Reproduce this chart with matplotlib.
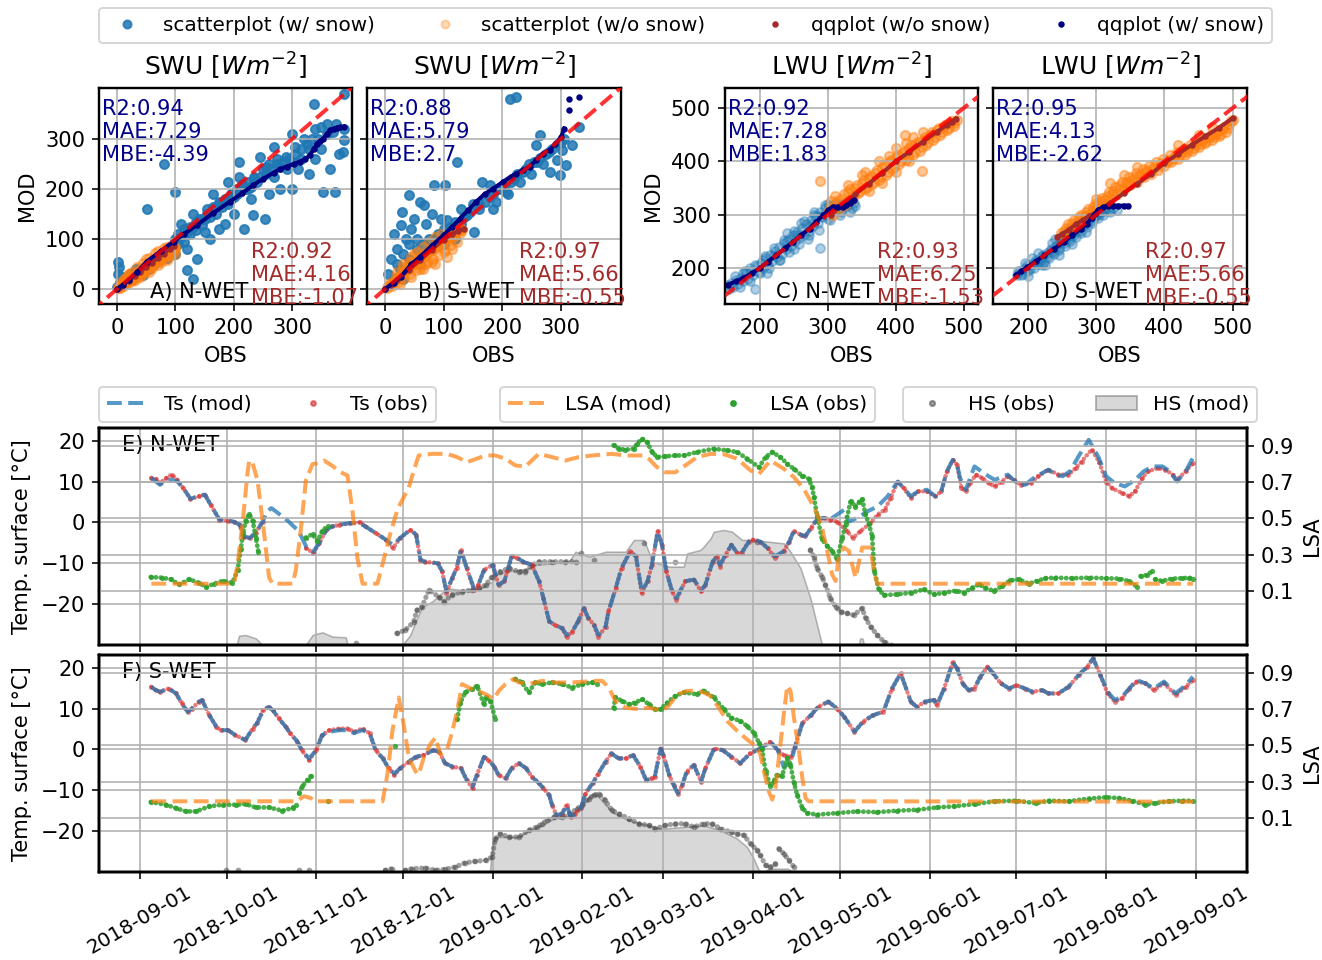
import numpy as np
import pandas as pd
import matplotlib
matplotlib.use('Agg')
import matplotlib.pyplot as plt
import matplotlib.dates as mdates
from matplotlib.lines import Line2D
from matplotlib.patches import Patch

nan = np.nan

# ---- scatter / qq data, (obs, mod) in W m-2 ----
A_SNOW = [(0,5),(1,30),(2,55),(3,45),(5,15),(8,25),(12,10),(18,20),(22,30),(28,22),(33,40),(38,35),(44,28),
          (50,45),(55,40),(60,55),(64,50),(70,65),(74,60),(80,70),(85,62),(90,85),(95,75),(100,100),(105,90),
          (110,105),(115,95),(120,115),(125,110),(130,125),(135,118),(140,140),(145,128),(150,140),(155,150),
          (160,145),(165,160),(170,150),(175,175),(180,165),(185,180),(190,170),(195,190),(200,185),(205,200),
          (210,195),(215,210),(220,200),(225,215),(230,205),(235,225),(240,215),(250,240),(255,230),(260,250),
          (270,225),(275,260),(280,245),(290,265),(300,255),(305,285),(315,260),(320,300),(330,280),(340,320),
          (345,300),(350,325),(360,310),(365,240),(370,315),(380,270),(390,320),(51,161),(80,251),(99,195),
          (131,21),(120,38),(137,61),(217,121),(254,141),(234,148),(209,255),(291,241),(354,195),(374,195),
          (387,275),(389,298),(337,371),(389,391),(160,100),(185,130),(200,150),(230,180),(260,190),(280,200),
          (300,200),(330,230),(190,215),(175,120),(150,115),(120,80),(100,70),(110,130),(130,150),(165,190),
          (210,225),(245,265),(270,285),(300,310),(310,240),(340,260),(350,280),(360,330),(375,330),
          (105,110),(125,125),(145,140),(165,165),(185,175),(205,190),(225,200),(245,225),(265,240),(285,255),
          (305,270),(325,290),(335,300),(115,120),(135,135),(155,160),(175,170),(195,180),(215,205),(235,220),
          (255,245),(275,250),(295,260),(315,280)]
A_NOSNOW = [(1,2),(3,6),(5,3),(8,10),(10,6),(13,15),(16,10),(19,20),(22,14),(25,26),(28,19),(31,31),(34,24),
            (37,37),(40,29),(43,42),(46,34),(49,47),(52,39),(55,52),(58,45),(61,56),(64,50),(67,61),(70,55),
            (73,66),(76,59),(79,70),(82,64),(85,74),(88,69),(91,77),(94,73),(97,82),(100,78),(20,30),(35,45),
            (50,60),(65,72),(80,82),(30,18),(45,30),(60,42),(75,55),(90,66),
            (4,4),(6,7),(9,8),(11,13),(14,12),(17,16),(20,17),(23,21),(26,23),(29,27),(32,29),(35,32),(38,33),
            (41,37),(44,39),(47,42),(50,44),(53,48),(56,49),(59,53),(62,54),(65,58),(68,60),(71,63),(74,64),
            (77,67),(80,69),(83,72),(86,72),(89,76),(92,79),(96,80),(99,84),(15,22),(25,34),(45,52),(55,62),
            (70,76),(85,84),(95,88),(40,25),(55,35),(70,48),(85,58),(100,70),(7,14),(12,20),(18,28)]
A_QQ_NOSNOW = [(0,0),(5,4),(10,8),(20,17),(30,26),(40,35),(50,44),(60,53),(70,62),(80,71),(90,80),(98,86)]
A_QQ_SNOW = [(0,0),(10,8),(20,18),(35,35),(51,55),(75,76),(97,95),(115,110),(137,128),(165,152),(194,175),
             (215,192),(234,208),(250,220),(269,233),(280,240),(291,245),(303,250),(314,255),(323,260),
             (331,268),(337,280),(343,291),(348,296),(354,301),(360,310),(366,318),(372,321),(377,323),
             (383,324),(389,325)]

B_SNOW = [(213,381),(224,385),(332,325),(264,308),(123,255),(83,208),(103,208),(41,188),(66,168),(29,155),
          (27,128),(15,111),(106,138),(258,288),(241,241),(281,235),(298,228),(309,248),(303,278),(294,258),
          (320,288),(165,215),(179,208),(207,195),(185,161),(140,148),(151,115),(60,175),(50,140),(35,100),
          (20,80),(45,120),(70,130),(80,150),(10,60),(5,30),(15,20),(25,40),(40,60),(55,80),(65,90),(75,100),
          (90,110),(100,120),(110,115),(120,135),(130,130),(145,155),(160,160),(170,175),(185,190),(195,200),
          (205,210),(215,215),(225,230),(235,235),(245,250),(255,255),(265,262),(275,270),(285,280),(295,290),
          (305,300),(230,215),(250,230),(270,250),(190,175),(210,190),(150,170),(130,160),(95,140),(85,100),
          (120,100),(100,90),(60,50),(30,20),(110,125),(135,145),(160,170),(180,185),(200,205),(220,220),
          (240,240),(260,255),(280,275),(300,295),(20,50),(30,70),(40,90),(55,100)]
B_NOSNOW = [(3,3),(8,12),(12,6),(18,25),(22,14),(28,35),(32,22),(38,45),(42,30),(48,55),(52,38),(58,65),
            (62,46),(68,72),(72,54),(78,80),(82,60),(88,88),(92,68),(98,95),(102,78),(108,100),(112,88),
            (118,106),(122,95),(128,112),(132,118),(40,55),(30,45),(50,70),(60,40),(80,55),(100,75),(70,50),
            (5,6),(10,10),(15,16),(20,20),(25,27),(30,30),(35,36),(40,40),(45,46),(50,50),(55,55),(60,60),
            (65,65),(70,68),(75,74),(80,78),(85,83),(90,86),(95,90),(100,96),(105,100),(110,104),(115,108),
            (120,112),(125,116),(130,120),(20,35),(30,50),(45,65),(55,75),(65,85),(75,95),(85,105),(95,110),
            (25,10),(45,25),(65,40),(85,50),(105,65),(115,80)]
B_QQ_NOSNOW = [(0,0),(10,9),(20,18),(40,38),(60,58),(80,79),(100,99),(115,110),(125,116),(134,121)]
B_QQ_SNOW = [(0,0),(15,13),(27,25),(45,50),(60,65),(80,87),(100,108),(115,125),(128,141),(142,158),(156,175),
             (170,190),(185,201),(202,215),(215,225),(224,231),(236,238),(247,245),(258,258),(269,271),
             (281,278),(291,290),(301,305),(306,321),(nan,nan),(315,358),(nan,nan),(315,380),(nan,nan),(332,385)]

C_SNOW = [(153,168),(158,172),(160,165),(165,178),(168,170),(172,182),(175,175),(180,190),(183,180),(187,195),
          (190,186),(195,203),(198,193),(202,210),(205,200),(208,218),(212,207),(215,225),(218,213),(222,232),
          (225,220),(228,240),(232,227),(235,247),(238,235),(242,255),(245,242),(248,262),(252,250),(255,268),
          (258,256),(262,275),(265,262),(268,282),(272,270),(275,290),(278,278),(282,298),(285,285),(288,305),
          (292,295),(295,312),(298,300),(302,316),(305,305),(310,318),(315,310),(320,320),(325,315),(330,318),
          (335,312),(340,316),(288,237),(192,160),(210,190),(230,215),(250,235),(270,255),(300,292),(320,305),
          (240,265),(260,285),(280,305),(300,320),
          (155,160),(163,185),(170,165),(178,195),(185,175),(192,205),(200,190),(207,222),(214,200),(220,238),
          (228,215),(235,252),(243,230),(250,270),(258,245),(265,288),(272,262),(280,300),(287,272),(295,318),
          (303,290),(312,322),(318,300),(327,322),(333,305),(338,322),(175,190),(205,215),(240,250),(275,282),
          (310,312),(185,200),(220,225),(255,262),(290,298)]
C_NOSNOW = [(300,305),(305,325),(310,315),(320,330),(325,318),(330,342),(335,330),(340,350),(345,340),
            (350,360),(355,348),(360,368),(365,357),(370,378),(375,365),(380,388),(385,375),(390,398),
            (395,385),(400,408),(405,395),(410,415),(415,402),(420,425),(425,412),(430,432),(435,420),
            (440,440),(445,430),(450,450),(455,440),(460,458),(465,450),(470,465),(475,458),(480,472),
            (485,466),(490,478),(289,363),(438,381),(486,471),(413,449),(360,345),(380,360),(400,380),
            (420,400),(350,375),(375,400),(400,425),(425,445),
            (303,312),(308,300),(313,325),(318,312),(323,338),(328,325),(333,348),(338,336),(343,356),
            (348,345),(353,365),(358,352),(363,373),(368,362),(373,383),(378,370),(383,393),(388,380),
            (393,402),(398,390),(403,412),(408,400),(413,420),(418,408),(423,430),(428,418),(433,436),
            (438,426),(443,446),(448,436),(453,455),(458,446),(463,462),(468,455),(473,468),(478,462),
            (483,476),(310,335),(330,355),(355,380),(390,410),(415,435),(440,455)]
C_QQ_NOSNOW = [(305,300),(320,318),(340,338),(360,358),(380,378),(400,400),(420,418),(440,437),(460,455),
               (475,468),(482,474),(488,480)]
C_QQ_SNOW = [(153,169),(165,175),(175,181),(188,190),(200,200),(212,212),(224,224),(237,237),(249,249),
             (261,262),(273,274),(283,287),(293,299),(300,308),(307,315),(315,315),(322,315),(327,318),
             (332,321),(336,325),(339,327)]

D_SNOW = [(183,186),(188,195),(192,188),(196,200),(200,195),(205,208),(208,200),(212,215),(215,207),(220,222),
          (223,212),(227,228),(230,218),(234,236),(238,226),(242,244),(246,234),(250,252),(254,242),(258,260),
          (262,250),(266,268),(270,258),(274,276),(278,266),(282,284),(286,276),(290,292),(294,284),(298,300),
          (302,294),(306,306),(310,300),(315,312),(320,305),(325,312),(330,308),(215,228),(235,247),(255,266),
          (275,285),(225,205),(245,225),(265,245),(285,268),(205,218),(195,210),
          (185,195),(190,186),(198,206),(203,198),(210,212),(218,214),(222,225),(228,220),(232,232),(237,230),
          (240,240),(245,238),(248,248),(252,246),(256,256),(260,254),(264,264),(268,262),(272,272),(276,270),
          (280,280),(284,280),(288,288),(292,288),(296,296),(300,298),(304,302),(308,305),(312,308),(318,310),
          (240,255),(260,272),(280,292),(200,185),(220,205)]
D_NOSNOW = [(248,265),(255,275),(260,268),(265,285),(270,280),(275,295),(280,290),(285,305),(290,300),
            (295,315),(300,310),(305,325),(310,318),(315,335),(320,328),(325,345),(330,338),(335,355),
            (340,348),(345,362),(350,356),(355,370),(360,362),(365,376),(370,370),(375,383),(380,377),
            (385,390),(390,384),(395,396),(400,392),(405,402),(410,398),(415,410),(420,405),(425,417),
            (430,412),(435,424),(440,420),(445,431),(450,427),(455,438),(460,434),(465,445),(470,440),
            (475,452),(480,447),(485,460),(490,455),(495,470),(500,478),(320,360),(340,375),(360,390),
            (300,330),(420,430),(450,450),(470,465),
            (252,270),(258,282),(262,275),(268,290),(272,286),(278,300),(283,297),(288,310),(293,306),
            (298,320),(303,318),(308,332),(313,328),(318,342),(323,338),(328,352),(333,348),(338,362),
            (343,358),(348,370),(353,365),(358,378),(363,372),(368,385),(373,380),(378,392),(383,386),
            (388,398),(393,392),(398,405),(403,398),(408,412),(413,405),(418,418),(423,412),(428,424),
            (433,418),(438,430),(443,425),(448,436),(453,432),(458,443),(463,438),(468,450),(473,446),
            (478,457),(483,452),(488,465),(493,462),(498,476)]
D_QQ_NOSNOW = [(243,259),(250,264),(260,272),(270,282),(280,290),(290,298),(300,304),(320,322),(340,340),
               (360,358),(380,376),(400,397),(420,414),(440,431),(460,447),(480,463),(500,481)]
D_QQ_SNOW = [(182,187),(190,194),(199,202),(212,213),(224,224),(238,236),(253,249),(265,262),(278,274),
             (286,283),(293,293),(298,302),(302,309),(310,314),(317,317),(325,317),(332,317),(340,317),(347,317)]

PANELS = ['A) N-WET', 'B) S-WET', 'C) N-WET', 'D) S-WET']
TITLES = ['SWU [$Wm^{-2}$]', 'SWU [$Wm^{-2}$]', 'LWU [$Wm^{-2}$]', 'LWU [$Wm^{-2}$]']
STATS_SNOW = ['R2:0.94\nMAE:7.29\nMBE:-4.39', 'R2:0.88\nMAE:5.79\nMBE:2.7',
              'R2:0.92\nMAE:7.28\nMBE:1.83', 'R2:0.95\nMAE:4.13\nMBE:-2.62']
STATS_NOSNOW = ['R2:0.92\nMAE:4.16\nMBE:-1.07', 'R2:0.97\nMAE:5.66\nMBE:-0.55',
                'R2:0.93\nMAE:6.25\nMBE:-1.53', 'R2:0.97\nMAE:5.66\nMBE:-0.55']

# ---- time series, (days since 2018-09-01, value) ----
E_TS_MOD = [(4,10.9),(5.5,10.0),(7,9.2),(9,10.4),(11,10.4),(13,10.0),(15,8.4),(17.5,5.8),(20.5,6.4),(22.5,6.8),
            (24.5,4.3),(27.5,0.7),(30.5,0.4),(32.5,0.2),(34.5,-0.6),(36,-3.4),(38,-3.8),(40,-2.6),(42.5,0.2),
            (44,2.7),(45.5,3.5),(47,2.7),(51,0.5),(55,-2.2),(57.5,-5.9),(60,-7.1),(62,-5.1),(64.5,-1.8),
            (66.5,-1.0),(69,-0.6),(72.5,-0.2),(76,-0.2),(78,-1.0),(81.5,-2.6),(85,-4.2),(87.5,-5.5),(90,-3.8),
            (93.5,-1.8),(95.5,-3.0),(97,-9.1),(98.5,-9.6),(103,-10.0),(104.5,-12.0),(106,-16.9),(108,-13.6),
            (109.5,-11.2),(111,-6.7),(113,-11.2),(115.5,-16.1),(117,-15.3),(119,-11.6),(122,-10.4),(124,-15.3),
            (126,-14.4),(127,-12.0),(128.5,-8.3),(130.5,-8.7),(132.5,-9.6),(135.5,-10.4),(138,-14.4),
            (139.5,-18.5),(141.5,-24.2),(143.5,-25.1),(146,-25.9),(147.5,-27.5),(149.5,-26.7),(151.5,-24.2),
            (153.5,-21.0),(155,-23.4),(157,-25.1),(158.5,-27.5),(161,-25.5),(162,-21.8),(164.5,-16.1),
            (166.5,-11.2),(169.5,-7.1),(171.5,-8.3),(173.5,-16.9),(175.5,-14.4),(177,-10.4),(179,-2.2),
            (180.5,-5.5),(182,-12.0),(184,-16.9),(185.5,-18.5),(188.5,-14.4),(191.5,-14.0),(194,-16.5),
            (195.5,-15.3),(198,-9.6),(199.5,-8.3),(200.5,-10.4),(202.5,-7.9),(204.5,-5.5),(206.5,-7.5),
            (208,-7.5),(210.5,-4.7),(212,-4.2),(214.5,-4.7),(217,-6.3),(219.5,-8.3),(222.5,-7.1),(224.5,-4.7),
            (226,-2.2),(228.5,-3.0),(230,-3.4),(232,-1.4),(234,0.7),(236.5,1.1),(238.5,0.7),(241,1.9),
            (243.5,3.1),(245,0.2),(248,1.1),(251.5,2.7),(255,3.9),(258.5,6.4),(262,10.0),(264,8.4),(266.5,6.4),
            (269,7.6),(272,8.0),(275,6.4),(277,7.6),(279,12.5),(281,15.3),(282.5,14.1),(283.5,10.9),
            (285.5,8.0),(288.5,13.7),(292.5,11.7),(295.5,10.4),(300,11.7),(302,10.4),(304,9.2),(306,9.2),
            (309,10.9),(312,12.1),(314,12.9),(316.5,11.7),(319,11.3),(321.5,12.5),(324.5,16.2),(328,20.2),
            (331.5,15.8),(334,11.3),(337,9.6),(340.5,8.8),(344,10.4),(347,12.5),(350,13.7),(353.5,13.7),
            (356,12.5),(358.5,10.0),(361.5,12.5),(364,15.8)]
E_TS_OBS = [(4,10.9),(5.5,10.6),(7,9.6),(9,10.8),(11,11.7),(13,10.4),(15,8.4),(17.5,5.8),(20.5,6.4),(22.5,6.8),
            (24.5,4.3),(27.5,0.7),(30.5,0.4),(32.5,0.2),(34.5,-0.6),(36,-3.6),(38,-3.8),(40,-2.6),(42.5,0.2),
            (43,nan),(57.5,-6.3),(60,-7.5),(62,-5.1),(64.5,-1.8),(66.5,-1.0),(69,-0.6),(72.5,-0.2),(76,0.0),
            (78,-1.0),(81.5,-2.6),(85,-4.2),(87.5,-6.3),(90,-3.8),(93.5,-1.8),(95.5,-3.0),(97,-9.1),(98.5,-9.6),
            (103,-10.0),(104.5,-12.0),(106,-17.3),(108,-13.6),(109.5,-11.2),(111,-6.7),(113,-11.2),
            (115.5,-16.5),(117,-15.3),(119,-11.6),(122,-10.4),(124,-15.3),(126,-14.4),(127,-12.0),(128.5,-8.3),
            (130.5,-8.7),(132.5,-9.6),(135.5,-10.4),(138,-14.4),(139.5,-18.5),(141.5,-24.2),(143.5,-25.1),
            (146,-25.9),(147.5,-28.0),(149.5,-26.7),(151.5,-24.2),(153.5,-21.0),(155,-23.4),(157,-25.1),
            (158.5,-28.0),(161,-25.5),(162,-21.8),(164.5,-16.1),(166.5,-11.2),(169.5,-7.1),(171.5,-8.3),
            (173.5,-17.3),(175.5,-14.4),(177,-10.4),(179,-2.2),(180.5,-5.5),(182,-12.0),(184,-16.9),
            (185.5,-19.0),(188.5,-14.4),(191.5,-14.0),(194,-16.9),(195.5,-15.3),(198,-9.6),(199.5,-8.3),
            (200.5,-10.8),(202.5,-7.9),(204.5,-5.5),(206.5,-7.5),(208,-7.5),(210.5,-4.7),(212,-4.2),
            (214.5,-4.7),(217,-6.3),(219.5,-8.7),(222.5,-7.1),(224.5,-4.7),(226,-2.2),(228.5,-3.0),(230,-3.4),
            (232,-1.4),(234,0.7),(236.5,1.1),(238.5,0.7),(241,0.2),(244.5,-2.2),(246.5,-3.8),(249,-2.2),
            (252.5,-0.2),(255,1.9),(257.5,3.1),(259.5,6.0),(262,10.0),(264,8.4),(266.5,6.0),(269,7.6),
            (272,7.6),(275,6.4),(277,7.6),(279,12.5),(281,15.3),(282.5,14.1),(284,8.4),(285.5,7.6),(287,9.6),
            (289,11.7),(291,10.9),(293.5,9.6),(295.5,8.8),(298,10.0),(300,11.3),(302,10.4),(304.5,9.2),
            (308,9.6),(310.5,11.3),(314,12.9),(317.5,11.7),(321,11.7),(323.5,13.3),(325.5,14.9),(329,17.8),
            (331.5,14.9),(334,10.0),(336,8.4),(339.5,7.2),(342,6.4),(344,7.6),(346.5,10.9),(348.5,12.5),
            (352,13.3),(354.5,12.9),(357,11.7),(358.5,10.4),(361.5,12.5),(364,14.5)]
E_LSA_MOD = [(4,0.139),(32.6,0.139),(33.8,0.246),(35.5,0.469),(37.2,0.746),(37.8,0.82),(38.9,0.811),
             (40.7,0.709),(43,0.413),(44.7,0.172),(45.9,0.139),(52.8,0.139),(53.9,0.21),(55.6,0.43),
             (57.4,0.709),(59.7,0.80),(61.4,0.806),(63.7,0.82),(66.6,0.79),(69.5,0.755),(71.8,0.737),
             (73.5,0.543),(75.2,0.283),(77,0.139),(82.1,0.139),(83.9,0.246),(86.2,0.394),(89.1,0.552),
             (93,0.672),(94.7,0.765),(96.4,0.848),(101,0.857),(106.2,0.857),(109.7,0.839),(113.1,0.811),
             (119.5,0.848),(122.9,0.848),(126.4,0.83),(129.8,0.793),(133.3,0.787),(137.9,0.857),(142.5,0.839),
             (147.1,0.82),(151.7,0.839),(156.3,0.848),(163.2,0.857),(167.8,0.848),(174.2,0.848),(175.9,0.83),
             (178.8,0.783),(181.7,0.755),(185.1,0.755),(189.2,0.80),(192.6,0.839),(197.3,0.857),(202.1,0.854),
             (206.5,0.83),(211.1,0.765),(214,0.746),(218,0.82),(222.6,0.774),(226.1,0.728),(229.5,0.663),
             (231.8,0.598),(234.1,0.524),(235.8,0.45),(237.6,0.32),(239.3,0.19),(240.5,0.154),(241.6,0.283),
             (243.3,0.339),(245.1,0.32),(246.2,0.246),(247.4,0.172),(249.7,0.339),(252.6,0.339),(253.7,0.209),
             (254.9,0.139),(364,0.139)]
E_LSA_OBS = [(3.8,0.176),(7.8,0.172),(10.7,0.163),(13.6,0.135),(17.1,0.163),(20.5,0.144),(22.8,0.12),
             (25.7,0.139),(28.6,0.154),(32,0.144),(33.8,0.213),(34.9,0.33),(35.7,0.422),(36.6,0.487),
             (37.8,0.524),(39,0.487),(40.1,0.394),(41,0.315),(41.5,nan),(57.4,0.394),(59.7,0.413),(61.4,0.376),
             (63.1,0.431),(64.9,0.459),(65.5,nan),(163.8,0.904),(165.5,0.885),(167.8,0.88),(170.7,0.885),
             (171.9,0.913),(173.6,0.941),(175.3,0.922),(177.1,0.867),(178.8,0.839),(181.7,0.843),(185.1,0.848),
             (188,0.848),(192.6,0.867),(198.4,0.885),(203,0.876),(206.5,0.867),(209.9,0.83),(214,0.783),
             (216.3,0.839),(218.6,0.867),(221.4,0.839),(223.8,0.802),(226.1,0.774),(228.9,0.737),(231.2,0.719),
             (232.4,0.672),(233,0.617),(234.1,0.515),(235.8,0.385),(237.6,0.348),(239.3,0.32),(241,0.274),
             (242.8,0.394),(244,0.469),(245.7,0.598),(247.1,0.565),(248.5,0.589),(249.7,0.607),(250.8,0.524),
             (252,0.469),(253.1,0.404),(253.9,0.209),(255.4,0.107),(257.2,0.076),(261.8,0.08),(266.4,0.089),
             (271,0.107),(274.5,0.08),(278,0.089),(282,0.10),(284.8,0.089),(287.7,0.117),(290,0.135),
             (292.3,0.117),(295.2,0.098),(298,0.126),(300.9,0.157),(303.8,0.163),(307.3,0.139),(310.1,0.154),
             (313,0.169),(316.5,0.172),(322.2,0.169),(328,0.172),(333.8,0.169),(338.4,0.167),(341.8,0.154),
             (344.7,0.122),(345.3,nan),(345.9,0.181),(348.2,0.187),(349.9,0.209),(350.4,nan),(351,0.163),
             (353.3,0.154),(356.8,0.167),(360.3,0.169),(362.6,0.172),(364,0.167)]
E_HS_MOD = [(4,0),(33.5,0),(34.3,8.6),(36.6,9.2),(40.1,6.1),(42.4,0),(57.4,0),(59.7,9.2),(63.1,11.7),
            (66.6,7.7),(71.2,7.1),(71.8,0),(89.5,0),(91.2,1.5),(93.5,9.2),(95.3,21.5),(97.6,35.3),(101,40),
            (106.2,52.2),(111.4,50.7),(117.2,51.6),(121.8,58.4),(122.9,64.5),(126.4,67.6),(134.4,70.7),
            (136.7,73.7),(142.5,75.3),(148.3,76.8),(150.6,86),(155.3,81.4),(161,86),(167.9,86),(170.8,96.8),
            (174.2,96.8),(175.9,86),(177.1,76.8),(182.8,72.2),(188,72.2),(189.2,84.5),(193.8,87.6),(194.9,90.6),
            (197.3,98.3),(198.4,104.4),(201.9,106),(204.7,104.4),(208.2,96.8),(211.7,96.8),(222.6,93.7),
            (224.9,86),(228.4,70.7),(231.8,43),(234.1,18.4),(235.8,0),(248.5,0),(249,6),(249.8,6),(250.3,0),
            (364,0)]
E_HS_OBS = [(74.7,1.5),(75,nan),(88.9,10.8),(91.8,13.8),(94.7,21.5),(95.8,32.3),(97.6,35.3),(99.9,50.7),
            (103.3,44.5),(105.1,39.9),(107.9,46.1),(111.4,49.2),(114.8,50.7),(117.2,52.2),(119.5,55.3),
            (121.8,63),(124.6,67.6),(127.5,70.7),(131,67.6),(133.3,67.6),(135.6,73.7),(137.9,76.8),(142.5,76.8),
            (147.1,76.8),(150.6,76.8),(151,nan),(152.5,85.1),(153,nan),(156.9,78.3),(157.5,nan),(174.2,93.7),
            (175,nan),(185.1,76.8),(186,nan),(213.5,95),(214,nan),(231.8,87.6),(233,81.4),(234.1,70.7),
            (235.8,63),(237,55.3),(238.7,43),(240.5,35.3),(242.2,30.7),(244.5,29.2),(246.8,27.6),(249.7,33.8),
            (250.9,24.6),(252.6,16.9),(254.9,9.2),(257.2,3.1),(259.5,0)]

F_TS_MOD = [(4,15.3),(5.5,14.5),(7,14.1),(10,14.9),(12.5,13.7),(14.5,11.3),(16.5,9.2),(18,10.0),(20.5,11.7),
            (21.5,12.1),(24,8.4),(26.5,5.5),(28,4.7),(30.5,4.7),(33,3.5),(36.5,2.3),(39,5.1),(40.5,6.4),
            (42.5,9.2),(44.5,10.4),(46,9.6),(48,7.6),(50.5,5.5),(52,3.9),(54.5,1.9),(56,-0.2),(58.5,-2.2),
            (61,-0.2),(63,3.5),(65.5,4.3),(69,4.7),(72,4.7),(74,4.0),(77,4.7),(79.5,3.9),(81.5,-0.2),(84,-2.2),
            (86,-4.6),(88,-5.9),(90,-4.6),(93,-3.0),(95.5,-1.8),(98,-1.4),(101.5,-0.2),(103.5,-0.6),
            (105.5,-3.4),(108,-4.2),(111,-4.6),(113,-7.5),(115,-9.1),(116.5,-6.3),(119,-1.8),(120.5,-2.6),
            (122.5,-4.2),(124,-6.3),(126.5,-7.1),(128.5,-4.6),(131,-3.4),(133.5,-4.6),(135.5,-6.7),(138,-8.3),
            (139.5,-9.5),(141.5,-11.2),(142.5,-13.6),(144,-16.1),(146,-15.7),(147.5,-13.6),(149,-16.5),
            (150.5,-15.7),(152.5,-14.4),(154,-10.8),(156.5,-8.3),(158.5,-5.9),(161,-3.0),(163,-1.0),
            (165.5,-2.2),(168,-2.2),(170.5,-1.4),(173,-4.2),(175,-7.5),(177,-7.1),(178,-6.7),(180,0.2),
            (181,-1.4),(183,-6.3),(184.5,-8.7),(186,-10.8),(187.5,-8.7),(189,-5.5),(191.5,-3.8),(194,-7.9),
            (195.5,-4.6),(198.5,0.2),(201.5,-0.2),(204.5,-1.8),(207.5,-3.4),(211,-1.0),(214.5,0.2),(218,1.9),
            (220.5,-0.2),(222.5,-4.2),(225,-3.4),(226.5,0.7),(229,6.4),(232,8.4),(234.5,10.4),(238,11.7),
            (241,10.0),(243.5,8.0),(247,4.3),(250,6.8),(253.5,8.4),(257,9.2),(260,14.9),(263,18.6),(266.5,11.7),
            (268.5,10.4),(271.5,11.7),(274.5,12.1),(275.5,10.8),(278,14.9),(281,21.3),(282.5,19.8),(284.5,16.0),
            (286.5,14.5),(288.5,14.9),(290.5,17.8),(293,20.2),(295,18.6),(297.5,16.2),(300.5,14.9),(303,15.7),
            (306,14.9),(308.5,14.1),(312,14.5),(314,13.7),(317.5,13.7),(321,15.3),(324.5,18.2),(327.5,20.2),
            (329.5,22.3),(332,18.2),(334.5,14.1),(337,12.1),(339.5,12.9),(342,14.9),(344.5,17.0),(347.5,16.2),
            (350.5,14.9),(354,16.6),(358,13.7),(361.5,15.7),(364,17.8)]
F_TS_OBS = [(4,15.3),(5.5,14.5),(7,14.1),(10,14.9),(12.5,13.7),(14.5,11.3),(16.5,9.2),(18,10.0),(20.5,11.7),
            (21.5,12.1),(24,8.4),(26.5,5.5),(28,4.7),(30.5,4.7),(33,3.5),(36.5,2.3),(39,5.1),(40.5,6.4),
            (42.5,9.6),(44.5,10.4),(46,9.6),(48,7.6),(50.5,5.5),(52,3.9),(54.5,1.9),(56,-0.2),(58.5,-2.6),
            (61,-0.2),(63,3.5),(65.5,4.7),(69,5.1),(72,5.1),(74,4.3),(77,5.1),(79.5,3.9),(81.5,-0.2),(84,-2.2),
            (86,-4.6),(88,-6.3),(90,-4.6),(93,-3.0),(95.5,-1.8),(98,-1.4),(101.5,-0.2),(103.5,-0.6),
            (105.5,-3.4),(108,-4.2),(111,-4.6),(113,-7.5),(115,-9.5),(116.5,-6.3),(119,-1.8),(120.5,-2.6),
            (122.5,-4.2),(124,-6.3),(126.5,-7.1),(128.5,-4.6),(131,-3.4),(133.5,-4.6),(135.5,-6.7),(138,-8.3),
            (139.5,-9.5),(141.5,-11.2),(142.5,-13.6),(144,-16.1),(146,-15.7),(147.5,-13.6),(149,-16.5),
            (150.5,-15.7),(152.5,-14.4),(154,-10.8),(156.5,-8.3),(158.5,-5.9),(161,-3.0),(163,-1.0),
            (165.5,-2.2),(168,-2.2),(170.5,-1.4),(173,-4.2),(175,-7.5),(177,-7.1),(178,-6.7),(180,0.2),
            (181,-1.4),(183,-6.3),(184.5,-8.7),(186,-10.8),(187.5,-8.7),(189,-5.5),(191.5,-3.8),(194,-7.9),
            (195.5,-4.6),(198.5,0.2),(201.5,-0.2),(204.5,-1.8),(207.5,-3.4),(211,-1.0),(214.5,0.2),(218,1.9),
            (220.5,-0.2),(222.5,-1.4),(225,-1.8),(226.5,0.7),(229,6.4),(232,8.4),(234.5,10.4),(238,11.7),
            (241,10.0),(243.5,8.0),(247,4.3),(250,6.8),(253.5,8.4),(257,9.2),(260,14.9),(263,18.6),(266.5,11.7),
            (268.5,10.4),(271.5,11.7),(274.5,12.1),(275.5,10.8),(278,14.9),(281,21.3),(282.5,19.8),(284.5,16.0),
            (286.5,14.5),(288.5,14.9),(290.5,17.8),(293,20.2),(295,18.6),(297.5,16.2),(300.5,14.9),(303,15.7),
            (306,14.9),(308.5,14.1),(312,14.5),(314,13.7),(317.5,13.7),(321,15.3),(324.5,18.2),(327.5,20.2),
            (329.5,22.3),(332,18.2),(334.5,13.7),(337,11.7),(339.5,12.5),(342,14.9),(344.5,16.6),(347.5,16.2),
            (350.5,14.5),(354,16.2),(358,13.3),(361.5,15.3),(364,16.9)]
F_LSA_MOD = [(4,0.191),(54,0.191),(56.8,0.219),(59.1,0.209),(60.3,0.191),(83.9,0.191),(85,0.283),(85.9,0.376),
             (87.3,0.58),(89.5,0.765),(91.2,0.617),(93,0.431),(95.3,0.357),(96.4,0.339),(98.1,0.431),
             (100.4,0.506),(102.2,0.543),(103.9,0.45),(106.2,0.478),(107.9,0.57),(109.7,0.691),(111.4,0.839),
             (113.7,0.82),(116,0.802),(118.3,0.793),(120.6,0.774),(122.3,0.756),(124.1,0.802),(126.4,0.839),
             (129.2,0.867),(131,0.848),(134.4,0.839),(139,0.857),(143.6,0.848),(149.4,0.848),(157.5,0.857),
             (159.8,0.857),(162.1,0.82),(164.4,0.746),(167.8,0.709),(172.5,0.70),(175.9,0.709),(178.2,0.70),
             (180.5,0.691),(182.8,0.719),(185.7,0.78),(189.2,0.802),(192.6,0.802),(194.9,0.793),(197.3,0.774),
             (200.1,0.709),(203,0.635),(206.5,0.58),(209.9,0.533),(212.8,0.496),(214.5,0.45),(215.7,0.357),
             (217.4,0.246),(218.6,0.20),(219.7,0.265),(220.9,0.431),(222.6,0.672),(223.8,0.83),(224.9,0.802),
             (226.1,0.654),(227.8,0.469),(229,0.32),(230.1,0.209),(231.2,0.191),(364,0.189)]
F_LSA_OBS = [(3.8,0.187),(9,0.172),(12.4,0.154),(15.9,0.135),(19.4,0.135),(24,0.163),(28.6,0.172),(33.2,0.172),
             (36.6,0.176),(40.1,0.157),(44.7,0.157),(49.3,0.139),(52.8,0.154),(53.9,0.172),(54.5,nan),
             (55.1,0.237),(56.2,0.274),(58,0.311),(59.1,0.33),(62,nan),(64.9,0.191),(66,nan),(88.3,0.496),
             (89,nan),(109.7,0.644),(110.8,0.737),(112.5,0.793),(114.8,0.811),(116.6,0.83),(118.9,0.728),
             (119.5,0.765),(121.2,0.746),(122.9,0.644),(125,nan),(129.8,0.867),(132.1,0.848),(134.4,0.793),
             (136.7,0.848),(139,0.839),(142.5,0.848),(146,0.839),(149.4,0.82),(152.9,0.839),(156.3,0.848),
             (158,0.839),(160,nan),(163.8,0.709),(164.4,0.765),(166.7,0.746),(169,0.728),(171.3,0.737),
             (173.6,0.756),(175.9,0.728),(178.2,0.70),(180,0.70),(182.3,0.737),(185.1,0.774),(188,0.793),
             (192.6,0.783),(194.9,0.802),(198.4,0.765),(201.9,0.70),(204.2,0.654),(207.6,0.635),(209.9,0.607),
             (212.2,0.57),(214,0.515),(215.1,0.478),(216.3,0.357),(218,0.274),(219.1,0.302),(220.3,0.339),
             (222,0.33),(223.8,0.431),(224.9,0.394),(226.1,0.293),(227.2,0.228),(229,0.154),(230.7,0.126),
             (234.1,0.117),(241,0.126),(247.9,0.135),(254.9,0.131),(261.8,0.139),(268.7,0.144),(275.6,0.157),
             (281.4,0.163),(288.8,0.176),(295.7,0.191),(302.7,0.194),(309.6,0.181),(314.2,0.194),(321.1,0.191),
             (328,0.206),(333.8,0.213),(338.4,0.209),(343,0.194),(347.6,0.172),(351,0.181),(355.7,0.191),
             (360.3,0.194),(364,0.194)]
F_HS_MOD = [(4,0),(121,0),(121.8,24.6),(122.9,32.3),(131,32.3),(134.4,38.4),(139,43),(143.1,49.2),(148.8,52.3),
            (151.1,57),(156.3,72.2),(158.6,69.1),(163.2,55.3),(169,47.6),(175.9,43),(180.5,39.9),(188,41.5),
            (194.9,43),(200.7,38.4),(206.5,30.7),(209.9,23),(212.2,12.3),(214,1.5),(215.7,0),(217.5,3),(224,3),
            (226,0),(364,0)]
F_HS_OBS = [(29.7,1.5),(30,nan),(33.8,1.5),(34,nan),(55,1.5),(56,nan),(58.5,1.5),(59,nan),(84.9,1.5),(87.2,3.1),
            (88,nan),(91.8,1.5),(94.1,3.1),(98.7,3.7),(102.2,1.5),(105.6,2.5),(109.1,4.6),(112.5,8.6),(116,9.8),
            (119.5,10.8),(121.8,13.8),(122.9,30.7),(124.6,35.3),(127.5,32.3),(131,32.3),(134.4,38.4),
            (137.3,41.5),(139,44.5),(140.8,47.6),(143.1,50.7),(146,50.7),(148.8,53.8),(151.1,58.4),(152.9,61.4),
            (155.2,67.6),(156.9,70.7),(158.6,72.2),(160.9,66),(163.2,56.8),(165.5,53.8),(169,49.2),(172.5,44.5),
            (175.9,43),(178.2,39.9),(181.7,43),(185.1,44.5),(188.6,44.5),(191.5,41.5),(194.9,44.5),(197.8,44.5),
            (200.7,39.9),(204.2,36.9),(206.5,35.3),(208.8,33.8),(211.1,26.1),(213.4,20),(214.5,15.4),
            (216.3,6.1),(218,4.6),(219.7,7.7),(220.3,nan),(220.9,21.5),(222.6,16.9),(224.3,10.8),(226.1,4.6)]

START = pd.Timestamp('2018-09-01')


def unzip(pairs):
    arr = np.array(pairs, dtype=float)
    return arr[:, 0], arr[:, 1]


def to_dates(days):
    return START + pd.to_timedelta(days, unit='D')


def plot_dots(ax, pairs, color, alpha, lw=2.2):
    # dense daily observations drawn as a row of round dots
    d, v = unzip(pairs)
    ax.plot(to_dates(d), v, color=color, alpha=alpha, lw=lw, ls=(0, (0.05, 1.0)),
            dash_capstyle='round', marker='o', ms=lw * 1.1, mew=0)


def plot_dashed(ax, pairs, color, alpha):
    d, v = unzip(pairs)
    ax.plot(to_dates(d), v, color=color, alpha=alpha, lw=2.0, ls='--')


plt.rcParams['font.size'] = 10.5
plt.rcParams['axes.linewidth'] = 1.2

W, H = 1322, 960
fig = plt.figure(figsize=(W / 144, H / 144), dpi=144)


def rect(x0, y0, x1, y1):
    return [x0 / W, 1 - y1 / H, (x1 - x0) / W, (y1 - y0) / H]


# ---- top row: scatter and qq plots ----
scatter_sets = [(A_SNOW, A_NOSNOW, A_QQ_NOSNOW, A_QQ_SNOW, 0.85),
                (B_SNOW, B_NOSNOW, B_QQ_NOSNOW, B_QQ_SNOW, 0.85),
                (C_SNOW, C_NOSNOW, C_QQ_NOSNOW, C_QQ_SNOW, 0.35),
                (D_SNOW, D_NOSNOW, D_QQ_NOSNOW, D_QQ_SNOW, 0.35)]
xpos = [(99, 352), (367, 621), (725, 978), (993, 1247)]
axes_top = []
for i, (snow, nosnow, qq_ns, qq_s, a_snow) in enumerate(scatter_sets):
    share = axes_top[i - 1] if i in (1, 3) else None
    ax = fig.add_axes(rect(xpos[i][0], 88, xpos[i][1], 304), sharey=share)
    ax.scatter(*unzip(snow), s=20, color='tab:blue', alpha=a_snow)
    ax.scatter(*unzip(nosnow), s=22, color='tab:orange', alpha=0.45)
    ax.plot(*unzip(qq_ns), color='brown', lw=2.0, marker='o', ms=2.2)
    ax.plot(*unzip(qq_s), color='navy', lw=2.0, marker='o', ms=2.2)
    ax.plot([-100, 700], [-100, 700], color='red', ls='--', lw=2, alpha=0.8, zorder=5)
    ax.grid(True)
    ax.set_title(TITLES[i], fontsize=12.5, pad=6)
    ax.set_xlabel('OBS')
    ax.text(0.012, 0.95, STATS_SNOW[i], transform=ax.transAxes, va='top', color='darkblue')
    ax.text(0.6, -0.02, STATS_NOSNOW[i], transform=ax.transAxes, va='bottom', color='brown')
    ax.text(0.2, 0.01, PANELS[i], transform=ax.transAxes, va='bottom')
    if i < 2:
        ax.set_xlim(-31, 403)
        ax.set_ylim(-30, 402)
        ax.set_xticks([0, 100, 200, 300])
        ax.set_yticks([0, 100, 200, 300])
    else:
        ax.set_xlim(148.5, 521)
        ax.set_ylim(132.5, 537.5)
        ax.set_xticks([200, 300, 400, 500])
        ax.set_yticks([200, 300, 400, 500])
    if i in (0, 2):
        ax.set_ylabel('MOD')
    else:
        ax.tick_params(labelleft=False)
    axes_top.append(ax)

top_handles = [Line2D([], [], ls='none', marker='o', ms=4, color='tab:blue', alpha=0.85),
               Line2D([], [], ls='none', marker='o', ms=4, color='tab:orange', alpha=0.3),
               Line2D([], [], ls='none', marker='o', ms=2.2, color='brown'),
               Line2D([], [], ls='none', marker='o', ms=2.2, color='navy')]
fig.legend(top_handles, ['scatterplot (w/ snow)', 'scatterplot (w/o snow)', 'qqplot (w/o snow)',
                         'qqplot (w/ snow)'],
           loc='upper center', bbox_to_anchor=(0.5185, 0.992), ncol=4, borderaxespad=0,
           columnspacing=2.5, fontsize=10)

# ---- bottom rows: surface temperature, albedo and snow depth ----
series = [('E) N-WET', E_TS_MOD, E_TS_OBS, E_LSA_MOD, E_LSA_OBS, E_HS_MOD, E_HS_OBS, (428, 645)),
          ('F) S-WET', F_TS_MOD, F_TS_OBS, F_LSA_MOD, F_LSA_OBS, F_HS_MOD, F_HS_OBS, (655, 872))]
base_axes = []
for label, ts_mod, ts_obs, lsa_mod, lsa_obs, hs_mod, hs_obs, (y0, y1) in series:
    share = base_axes[0] if base_axes else None
    ax_hs = fig.add_axes(rect(99, y0, 1247, y1), sharex=share)
    ax_ts = ax_hs.twinx()
    ax_lsa = ax_hs.twinx()
    ax_ts.yaxis.tick_left()
    ax_ts.yaxis.set_label_position('left')
    ax_hs.yaxis.set_visible(False)

    d, v = unzip(hs_mod)
    ax_hs.fill_between(to_dates(d), 0, v, facecolor=(0.5, 0.5, 0.5, 0.3),
                       edgecolor=(0.4, 0.4, 0.4, 0.45), lw=0.8)
    plot_dots(ax_hs, hs_obs, '0.25', 0.5, lw=2.6)
    ax_hs.set_ylim(0, 200)
    ax_hs.grid(True, axis='x')

    plot_dots(ax_ts, ts_obs, 'tab:red', 0.6)
    plot_dashed(ax_ts, ts_mod, 'tab:blue', 0.75)
    ax_ts.set_ylim(-30, 23.1)
    ax_ts.set_yticks([-20, -10, 0, 10, 20])
    ax_ts.grid(True, axis='y')
    ax_ts.set_ylabel('Temp. surface [°C]')

    plot_dots(ax_lsa, lsa_obs, 'tab:green', 0.85, lw=2.4)
    plot_dashed(ax_lsa, lsa_mod, 'tab:orange', 0.7)
    ax_lsa.set_ylim(-0.2, 1.0)
    ax_lsa.set_yticks([0.1, 0.3, 0.5, 0.7, 0.9])
    ax_lsa.grid(True, axis='y')
    ax_lsa.set_ylabel('LSA')

    ax_ts.text(0.02, 0.97, label, transform=ax_ts.transAxes, va='top')
    base_axes.append(ax_hs)

axE, axF = base_axes
axF.set_xlim(to_dates([-14.1])[0], to_dates([382.7])[0])
axF.xaxis.set_major_locator(mdates.MonthLocator())
axF.xaxis.set_major_formatter(mdates.DateFormatter('%Y-%m-%d'))
axE.tick_params(labelbottom=False)
axF.tick_params(axis='x', labelsize=10, pad=2)
plt.setp(axF.get_xticklabels(), rotation=30, ha='center')

ts_handles = [Line2D([], [], ls='--', lw=2, color='tab:blue', alpha=0.75),
              Line2D([], [], ls='none', marker='o', ms=2.4, color='tab:red', alpha=0.6)]
lsa_handles = [Line2D([], [], ls='--', lw=2, color='tab:orange', alpha=0.7),
               Line2D([], [], ls='none', marker='o', ms=2.4, color='tab:green')]
hs_handles = [Line2D([], [], ls='none', marker='o', ms=2.6, color='0.25', alpha=0.5),
              Patch(facecolor=(0.5, 0.5, 0.5, 0.3), edgecolor=(0.4, 0.4, 0.4, 0.45))]
leg_y = 1 - 422 / H
leg_kw = dict(loc='lower left', ncol=2, borderaxespad=0, fontsize=10.2)
fig.legend(ts_handles, ['Ts (mod)', 'Ts (obs)'], bbox_to_anchor=(99 / W, leg_y), **leg_kw)
fig.legend(lsa_handles, ['LSA (mod)', 'LSA (obs)'], bbox_to_anchor=(500 / W, leg_y), **leg_kw)
fig.legend(hs_handles, ['HS (obs)', 'HS (mod)'], bbox_to_anchor=(903 / W, leg_y), **leg_kw)

fig.savefig('out.png', dpi=144)
